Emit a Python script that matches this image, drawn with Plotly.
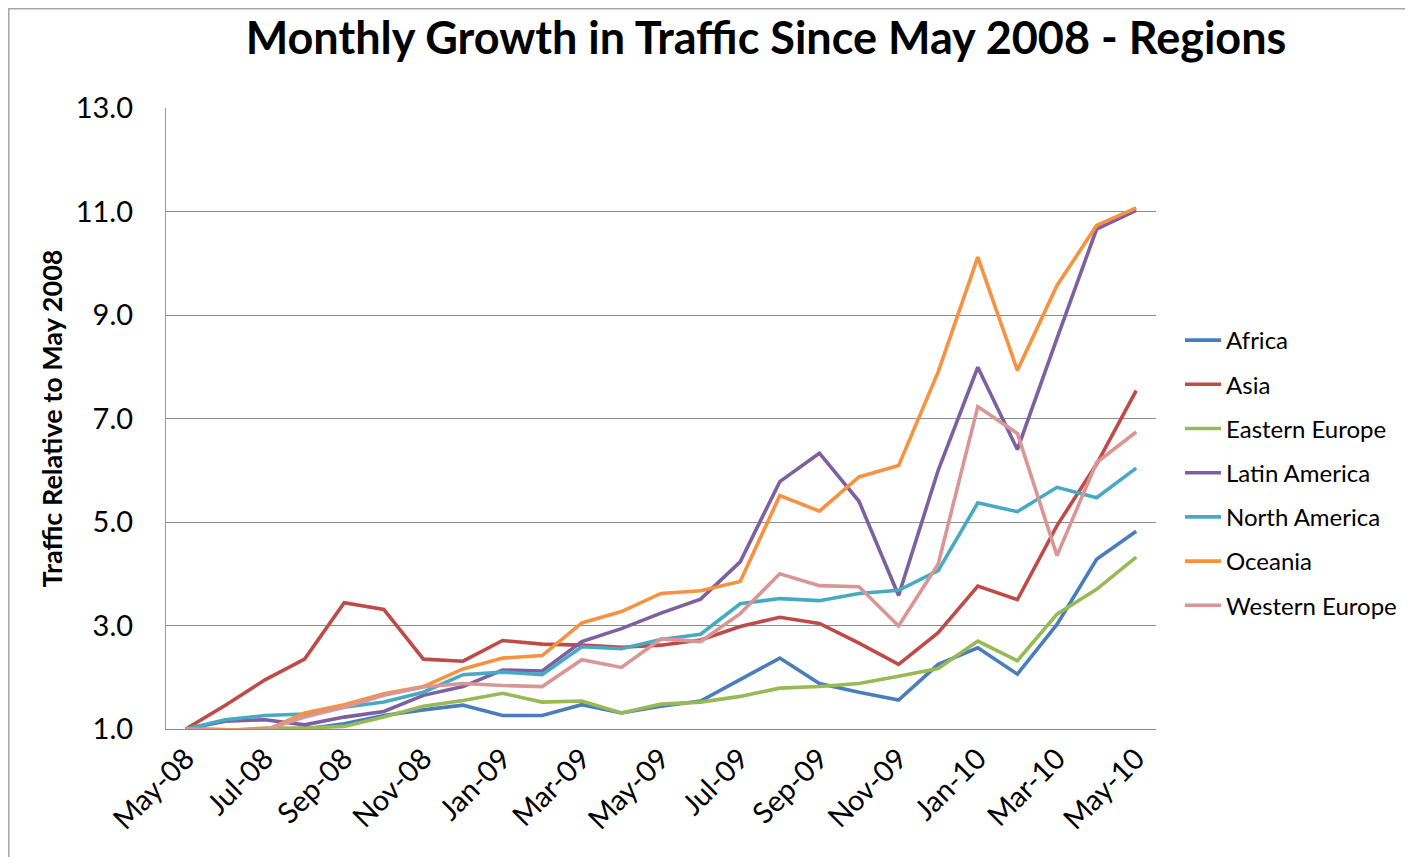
import plotly.graph_objects as go

months = ["May-08", "Jun-08", "Jul-08", "Aug-08", "Sep-08", "Oct-08", "Nov-08", "Dec-08",
          "Jan-09", "Feb-09", "Mar-09", "Apr-09", "May-09", "Jun-09", "Jul-09", "Aug-09",
          "Sep-09", "Oct-09", "Nov-09", "Dec-09", "Jan-10", "Feb-10", "Mar-10", "Apr-10", "May-10"]

africa = [1.00, 0.98, 0.97, 1.00, 1.10, 1.26, 1.37, 1.46, 1.26, 1.26, 1.47, 1.31, 1.44,
          1.54, 1.95, 2.37, 1.88, 1.71, 1.56, 2.25, 2.57, 2.06, 3.02, 4.28, 4.82]
asia = [1.00, 1.46, 1.95, 2.35, 3.44, 3.31, 2.35, 2.31, 2.71, 2.64, 2.62, 2.58, 2.62,
        2.72, 2.98, 3.16, 3.04, 2.66, 2.25, 2.86, 3.76, 3.50, 4.93, 6.12, 7.54]
eastern_europe = [1.00, 0.97, 1.02, 1.02, 1.05, 1.23, 1.44, 1.55, 1.69, 1.52, 1.54, 1.31, 1.48,
                  1.52, 1.63, 1.79, 1.82, 1.88, 2.02, 2.17, 2.70, 2.32, 3.22, 3.70, 4.32]
latin_america = [1.00, 1.15, 1.18, 1.08, 1.23, 1.34, 1.65, 1.82, 2.14, 2.12, 2.69, 2.94, 3.24,
                 3.51, 4.23, 5.78, 6.33, 5.40, 3.58, 6.00, 7.99, 6.40, 8.55, 10.66, 11.02]
north_america = [1.00, 1.18, 1.26, 1.29, 1.42, 1.52, 1.71, 2.05, 2.10, 2.05, 2.59, 2.55, 2.73,
                 2.83, 3.42, 3.52, 3.48, 3.62, 3.68, 4.06, 5.37, 5.20, 5.67, 5.47, 6.04]
oceania = [1.00, 0.98, 0.97, 1.31, 1.47, 1.68, 1.82, 2.16, 2.37, 2.42, 3.05, 3.27, 3.62,
           3.67, 3.85, 5.51, 5.21, 5.87, 6.09, 7.90, 10.12, 7.93, 9.57, 10.73, 11.07]
western_europe = [1.00, 0.97, 0.98, 1.23, 1.42, 1.65, 1.81, 1.88, 1.84, 1.82, 2.34, 2.19, 2.74,
                  2.69, 3.23, 4.00, 3.77, 3.75, 2.99, 4.19, 7.23, 6.71, 4.35, 6.15, 6.74]

series = [
    ("Africa", africa, "#4A7EBB"),
    ("Asia", asia, "#BE4B48"),
    ("Eastern Europe", eastern_europe, "#98B954"),
    ("Latin America", latin_america, "#7D60A0"),
    ("North America", north_america, "#46AAC5"),
    ("Oceania", oceania, "#F69240"),
    ("Western Europe", western_europe, "#D99694"),
]

xidx = list(range(len(months)))
font = "Lato"

fig = go.Figure()
for name, vals, color in series:
    fig.add_trace(go.Scatter(
        x=xidx, y=vals, name=name, mode="lines", legendgroup=name,
        line=dict(color=color, width=3.6),
    ))

# page offset of the plot div (default body margin)
OFF = 8
W, H = 1413 - 2 * OFF, 865 - 2 * OFF
L, R, T, B = 166 - OFF, 1156 - OFF, 108 - OFF, 729 - OFF

fig.update_layout(
    width=W, height=H,
    margin=dict(l=L, r=W - R, t=T, b=H - B, autoexpand=False),
    plot_bgcolor="white", paper_bgcolor="white",
    title=dict(text="<b>Monthly Growth in Traffic Since May 2008 - Regions</b>",
               x=(766 - OFF) / W, xanchor="center", y=1 - (38 - OFF) / H, yanchor="middle",
               font=dict(family=font, size=45, color="black")),
    font=dict(family=font, color="black"),
    showlegend=True,
    legend=dict(x=(1180 - OFF - L) / (R - L), xanchor="left",
                y=(B - (473 - OFF)) / (B - T), yanchor="middle",
                font=dict(family=font, size=24, color="black"),
                traceorder="grouped", tracegroupgap=10,
                bgcolor="rgba(0,0,0,0)", itemwidth=36),
    xaxis=dict(
        range=[-0.5, len(months) - 0.5],
        tickmode="array", tickvals=xidx[::2], ticktext=months[::2],
        tickangle=-45, tickfont=dict(family=font, size=29, color="black"),
        showgrid=False, zeroline=False,
        showline=True, linecolor="#888888", linewidth=1.3,
        ticks="",
    ),
    yaxis=dict(
        range=[1, 13], dtick=2, tick0=1, tickformat=".1f",
        tickfont=dict(family=font, size=29, color="black"),
        showgrid=True, gridcolor="#8c8c8c", gridwidth=1.3,
        zeroline=False,
        showline=True, linecolor="#999999", linewidth=1.3,
        ticks="", ticklabelstandoff=26,
        title=dict(text="<b>Traffic Relative to May 2008</b>",
                   font=dict(family=font, size=27, color="black"), standoff=5),
    ),
)

# chart-area border
fig.add_shape(type="rect", xref="paper", yref="paper",
              x0=(0.8 - L) / (R - L), x1=(W + 10 - L) / (R - L),
              y0=(B - (H + 10)) / (B - T), y1=(B - 0.8) / (B - T),
              line=dict(color="#a6a6a6", width=1.5), fillcolor="rgba(0,0,0,0)",
              layer="below")

fig.write_html("out.html")
